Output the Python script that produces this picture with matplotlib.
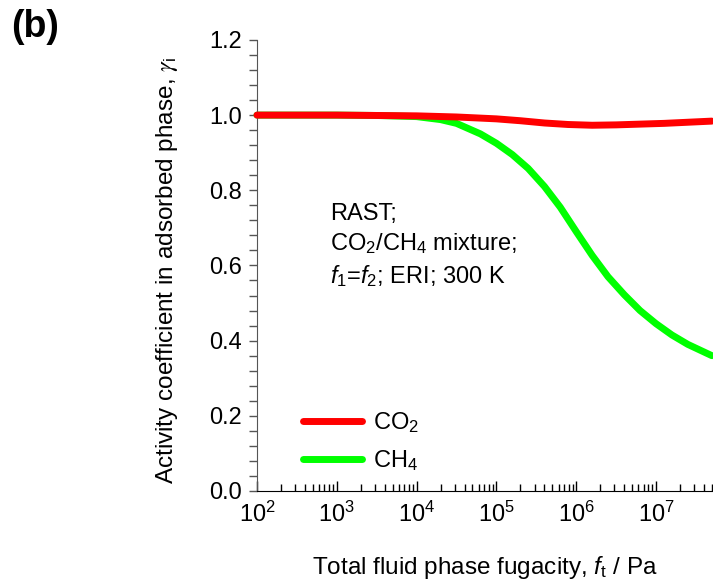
import matplotlib
matplotlib.use("Agg")
import matplotlib.pyplot as plt
from matplotlib.ticker import LogLocator, MultipleLocator, NullFormatter, LogFormatterMathtext

plt.rcParams['font.family'] = ['Liberation Sans', 'DejaVu Sans']
plt.rcParams['mathtext.fontset'] = 'custom'
plt.rcParams['mathtext.rm'] = 'Liberation Sans'
plt.rcParams['mathtext.it'] = 'Liberation Sans:italic'
plt.rcParams['mathtext.bf'] = 'Liberation Sans:bold'
plt.rcParams['mathtext.sf'] = 'STIXGeneral:italic'

# Activity coefficients from RAST, CO2/CH4 equimolar mixture in ERI at 300 K
f_co2 = [1.0e2, 1.0e3, 3.16e3, 1.0e4, 3.16e4, 1.0e5, 2.0e5, 4.0e5, 7.9e5, 1.58e6,
         3.16e6, 6.3e6, 1.26e7, 2.5e7, 5.0e7]
gamma_co2 = [1.000, 1.000, 0.999, 0.998, 0.995, 0.990, 0.985, 0.979, 0.975, 0.973,
             0.974, 0.976, 0.978, 0.981, 0.984]

f_ch4 = [1.0e2, 1.0e3, 3.16e3, 1.0e4, 2.0e4, 3.16e4, 6.3e4, 1.0e5, 1.58e5, 2.5e5,
         4.0e5, 6.3e5, 1.0e6, 1.58e6, 2.5e6, 4.0e6, 6.3e6, 1.0e7, 1.58e7, 2.5e7, 5.0e7]
gamma_ch4 = [1.000, 1.000, 0.999, 0.996, 0.988, 0.978, 0.950, 0.925, 0.895, 0.858,
             0.810, 0.755, 0.690, 0.627, 0.570, 0.522, 0.480, 0.445, 0.415, 0.390, 0.360]

series_labels = ['CO$_2$', 'CH$_4$']
series_colors = ['#ff0000', '#00ff00']

fig = plt.figure(figsize=(7.13, 5.82), dpi=100)
ax = fig.add_axes([0.3604, 0.1564, 0.638, 0.775])

ax.plot(f_co2, gamma_co2, color=series_colors[0], lw=5, solid_capstyle='round',
        solid_joinstyle='round', clip_on=False, label=series_labels[0], zorder=3)
ax.plot(f_ch4, gamma_ch4, color=series_colors[1], lw=5, solid_capstyle='round',
        solid_joinstyle='round', clip_on=False, label=series_labels[1], zorder=2)

ax.set_xscale('log')
ax.set_xlim(1e2, 5e7)
ax.set_ylim(0, 1.2)

ax.xaxis.set_major_locator(LogLocator(base=10, numticks=20))
ax.xaxis.set_minor_locator(LogLocator(base=10, subs=range(2, 10), numticks=50))
ax.xaxis.set_minor_formatter(NullFormatter())
ax.xaxis.set_major_formatter(LogFormatterMathtext())
ax.yaxis.set_major_locator(MultipleLocator(0.2))
ax.yaxis.set_minor_locator(MultipleLocator(0.04))
ax.yaxis.set_major_formatter(plt.FuncFormatter(lambda v, p: f"{v:.1f}"))

for s in ['top', 'right']:
    ax.spines[s].set_visible(False)
ax.spines['left'].set_color('#555555')
ax.spines['bottom'].set_color('black')

ax.tick_params(axis='x', which='major', direction='in', length=7, width=1,
               labelsize=17, pad=8, color='black')
ax.tick_params(axis='x', which='minor', direction='in', length=5, width=1, color='black')
ax.tick_params(axis='y', which='both', direction='out', length=6, width=1,
               labelsize=17, pad=5, color='#555555')

ax.set_xlabel('Total fluid phase fugacity, $f_{\\mathrm{t}}$ / Pa', fontsize=17.5)
ax.xaxis.set_label_coords(0.5, -0.14)
ax.set_ylabel('Activity coefficient in adsorbed phase, $\\mathsf{\\gamma}_{\\mathrm{i}}$',
              fontsize=17.5)
ax.yaxis.set_label_coords(-0.17, 0.49)

ax.text(0.16, 0.60, 'RAST;', transform=ax.transAxes, fontsize=17, va='baseline')
ax.text(0.16, 0.535, 'CO$_2$/CH$_4$ mixture;', transform=ax.transAxes, fontsize=17, va='baseline')
ax.text(0.16, 0.46, '$f_1$=$f_2$; ERI; 300 K', transform=ax.transAxes, fontsize=17, va='baseline')

ax.legend(loc='lower left', bbox_to_anchor=(0.101, 0.04), frameon=False, fontsize=17,
          handlelength=2.5, handletextpad=0.45, labelspacing=0.55,
          borderaxespad=0, borderpad=0)

fig.text(0.016, 0.954, '(b)', fontsize=27, fontweight='bold', va='center')

fig.savefig('out.png', dpi=100)
